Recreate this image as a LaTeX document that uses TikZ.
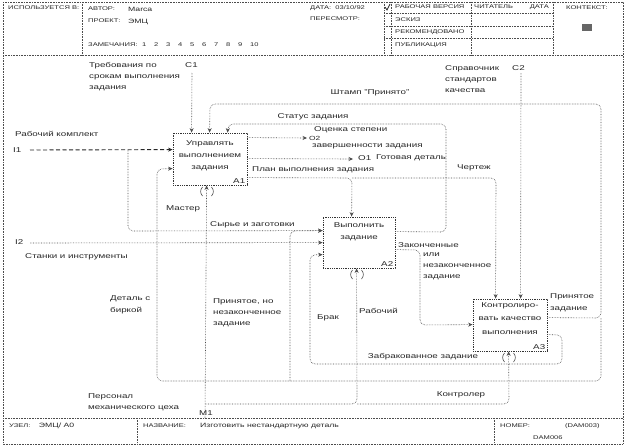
\documentclass[tikz,border=0pt]{standalone}
\usepackage{fontspec}
\setmainfont[FakeStretch=1.4]{Liberation Sans}
\usetikzlibrary{arrows.meta,calc}
\begin{document}
\begin{tikzpicture}[x=1pt,y=-1pt,
  frame/.style={draw=black!70,line width=0.6pt,densely dotted},
  ln/.style={draw=black!70,line width=0.6pt,densely dotted,rounded corners=5pt},
  arr/.style={ln,-{Stealth[length=4.5pt,width=4pt]}},
  iarr/.style={draw=black!85,line width=0.9pt,dash pattern=on 4pt off 2.5pt,-{Stealth[length=4.5pt,width=4pt]}},
  idefbox/.style={draw=black!80,line width=0.8pt,densely dotted,minimum width=74pt,minimum height=52pt,inner sep=0pt},
  lbl/.style={font=\fontsize{7}{11}\selectfont,inner sep=0pt,align=left,text=black!85},
  boxtxt/.style={font=\fontsize{7}{12}\selectfont,inner sep=0pt,align=center,text=black!85},
  hdr/.style={font=\fontsize{5.4}{6}\selectfont,inner sep=0pt,anchor=west,text=black!85},
  tun/.style={draw=black!70,line width=0.6pt}
]
\useasboundingbox (0,0) rectangle (628,447);

% ---------- frame, header, footer ----------
\draw[frame] (3,2) rectangle (623,444);
\draw[frame] (3,55) -- (623,55);
\draw[frame] (82,2) -- (82,55);
\draw[frame] (384,2) -- (384,55);
\draw[frame] (391,2) -- (391,55);
\draw[frame] (471,2) -- (471,55);
\draw[frame] (553,2) -- (553,55);
\draw[frame] (384,13.5) -- (553,13.5);
\draw[frame] (384,26) -- (553,26);
\draw[frame] (384,38.5) -- (553,38.5);
\draw[frame] (3,418) -- (623,418);
\draw[frame] (137,418) -- (137,444);
\draw[frame] (494,418) -- (494,444);

\node[hdr] (hisp) at (8,8) {ИСПОЛЬЗУЕТСЯ В:};
\node[hdr] (haut) at (88,9) {АВТОР:};
\node[hdr,font=\fontsize{6.2}{7}\selectfont] (hautv) at (128,9) {Marca};
\node[hdr] (hprj) at (88,21) {ПРОЕКТ:};
\node[hdr,font=\fontsize{6.2}{7}\selectfont] (hprjv) at (128,22) {ЭМЦ};
\node[hdr] (hzam) at (88,45) {ЗАМЕЧАНИЯ:};
\foreach \n in {1,...,10} \node[hdr] (zn\n) at ({130+12*\n},45) {\n};
\node[hdr] (hdate) at (310,8) {ДАТА:\ \ 03/10/92};
\node[hdr] (hrev) at (310,19) {ПЕРЕСМОТР:};
\draw[line width=0.8pt,black!85] (385,7) -- (387,10) -- (390,4);
\node[hdr] (hs1) at (395,7) {РАБОЧАЯ ВЕРСИЯ};
\node[hdr] (hs2) at (395,19.5) {ЭСКИЗ};
\node[hdr] (hs3) at (395,32) {РЕКОМЕНДОВАНО};
\node[hdr] (hs4) at (395,45) {ПУБЛИКАЦИЯ};
\node[hdr] (hread) at (474,7) {ЧИТАТЕЛЬ};
\node[hdr,anchor=east] (hrdate) at (549,7) {ДАТА};
\node[hdr] (hctx) at (566,8) {КОНТЕКСТ:};
\node[fill=black!60,minimum width=10pt,minimum height=7pt,inner sep=0pt] (ctxbox) at (587,27.5) {};

\node[hdr] (fnode) at (9,426) {УЗЕЛ:\ \ \ \ {\fontsize{6.2}{7}\selectfont ЭМЦ/ А0}};
\node[hdr] (fname) at (143,426) {НАЗВАНИЕ:};
\node[hdr,font=\fontsize{6.2}{7}\selectfont] (ftitle) at (200,426) {Изготовить нестандартную деталь};
\node[hdr] (fnum) at (500,426) {НОМЕР:};
\node[hdr] (fnum1) at (565,426) {(DAM003)};
\node[hdr] (fnum2) at (533,438) {DAM006};

% ---------- boxes ----------
\node[idefbox] (a1) at (210,159) {};
\node[idefbox,minimum width=72pt,minimum height=51pt] (a2) at (359,242.5) {};
\node[idefbox] (a3) at (510,325) {};

\node[boxtxt,anchor=north] (a1t) at ($(a1.north)+(0,7.5)$) {Управлять\\выполнением\\задания};
\node[boxtxt,anchor=north] (a2t) at ($(a2.north)+(0,5.5)$) {Выполнить\\задание};
\node[boxtxt,anchor=north,font=\fontsize{7}{13.5}\selectfont] (a3t) at ($(a3.north)+(0,3.5)$) {Контролиро-\\вать качество\\выполнения};
\node[lbl,anchor=south east] (a1n) at ($(a1.south east)+(-2,-2)$) {A1};
\node[lbl,anchor=south east] (a2n) at ($(a2.south east)+(-2,-2)$) {A2};
\node[lbl,anchor=south east] (a3n) at ($(a3.south east)+(-2,-2)$) {A3};

% ---------- boundary coordinates ----------
\coordinate (i1) at (30,150);
\coordinate (i2) at (30,243);
\coordinate (c1) at (192,73);
\coordinate (c2) at (521,73);
\coordinate (m1) at (205,418);

% ---------- inputs ----------
\draw[iarr] (i1) -- ($(a1.north west)+(0,17)$);
\draw[arr] (128,150) -- (128,231) -- ($(a2.north west)+(0,14)$);
\draw[arr] (i2) -- ($(a2.north west)+(0,26)$);

% ---------- controls ----------
\draw[arr] (c1) -- ($(a1.north west)+(19,0)$);
\draw[arr] (c2) -- ($(a3.north west)+(48,0)$);

% ---------- A1 outputs ----------
\draw[arr] ($(a1.north east)+(0,5)$) -- (307,138);
\draw[arr] ($(a1.north east)+(0,26)$) -- (353,159);
\draw[arr] ($(a1.north east)+(0,45)$) -- (352,178) -- ($(a2.north west)+(29,0)$);
\draw[arr] (352,178) -- (496,178) -- ($(a3.north west)+(23,0)$);

% ---------- A2 outputs ----------
\draw[arr] ($(a2.north east)+(0,15)$) -- (446,232) -- (446,124) -- (228,124) -- ($(a1.north west)+(55,0)$);
\draw[arr] ($(a2.north east)+(0,33)$) -- (420,250) -- (420,325) -- ($(a3.north west)+(0,26)$);

% ---------- A3 outputs ----------
\draw[arr] ($(a3.north east)+(0,19)$) -- (601,318) -- (601,104) -- (210,104) -- ($(a1.north west)+(37,0)$);
\draw[arr] (601,318) -- (601,381) -- (157,381) -- (157,169) -- ($(a1.north west)+(0,36)$);
\draw[arr] (290,381) -- (290,231) -- ($(a2.north west)+(0,14)$);
\draw[arr] ($(a3.north east)+(0,36)$) -- (562,335) -- (562,364) -- (310,364) -- (310,255) -- ($(a2.north west)+(0,38)$);

% ---------- mechanisms ----------
\draw[arr] (m1) -- ($(a1.south west)+(34,0)$);
\draw[arr] (205,404) -- (357,404) -- ($(a2.south west)+(34,0)$);
\draw[arr] (357,404) -- (509,404) -- ($(a3.south west)+(36,0)$);

% tunnel brackets
\draw[tun] (202.5,187) .. controls (200,190) and (200,193) .. (202.5,196);
\draw[tun] (211.5,187) .. controls (214,190) and (214,193) .. (211.5,196);
\draw[tun] (352.5,270) .. controls (350,273) and (350,276) .. (352.5,279);
\draw[tun] (361.5,270) .. controls (364,273) and (364,276) .. (361.5,279);
\draw[tun] (504.5,353) .. controls (502,356) and (502,359) .. (504.5,362);
\draw[tun] (513.5,353) .. controls (516,356) and (516,359) .. (513.5,362);

% ---------- labels ----------
\node[lbl,anchor=west] (lrk) at (15,134) {Рабочий комплект};
\node[lbl,anchor=west] (li1) at (13,150) {I1};
\node[lbl,anchor=west] (li2) at (15,242) {I2};
\node[lbl,anchor=west] (lst) at (25,257) {Станки и инструменты};
\node[lbl,anchor=north west] (lc1t) at (89,62) {Требования по\\срокам выполнения\\задания};
\node[lbl,anchor=west] (lc1) at (185,65) {C1};
\node[lbl,anchor=north west] (lc2t) at (445,65) {Справочник\\стандартов\\качества};
\node[lbl,anchor=west] (lc2) at (512,68) {C2};
\node[lbl] (lsht) at (370,93) {Штамп "Принято"};
\node[lbl] (lstat) at (313,117) {Статус задания};
\node[lbl,anchor=west] (lo2a) at (314,130) {Оценка степени};
\node[lbl,anchor=west,font=\fontsize{6}{7}\selectfont] (lo2) at (309,138.5) {O2};
\node[lbl,anchor=west] (lo2b) at (312,146) {завершенности задания};
\node[lbl,anchor=west] (lo1) at (358,158) {O1};
\node[lbl,anchor=west] (lgd) at (376,158) {Готовая деталь};
\node[lbl,anchor=west] (lplan) at (252,170) {План выполнения задания};
\node[lbl,anchor=west] (lch) at (457,168) {Чертеж};
\node[lbl,anchor=west] (lmas) at (166,209) {Мастер};
\node[lbl,anchor=west] (lsyr) at (210,225) {Сырье и заготовки};
\node[lbl,anchor=west] (lzak) at (398,245) {Законченные};
\node[lbl,anchor=north west] (lzak2) at (423,253) {или\\незаконченное\\задание};
\node[lbl,anchor=north west,font=\fontsize{7}{12}\selectfont] (lprin) at (550,293) {Принятое\\задание};
\node[lbl,anchor=north west,font=\fontsize{7}{12}\selectfont] (ldet) at (110,295) {Деталь с\\биркой};
\node[lbl,anchor=north west] (lpnz) at (213,298) {Принятое, но\\незаконченное\\задание};
\node[lbl,anchor=west] (lbrak) at (317,318) {Брак};
\node[lbl,anchor=west] (lrab) at (359,311) {Рабочий};
\node[lbl] (lzz) at (423,357) {Забракованное задание};
\node[lbl,anchor=north west] (lpers) at (88,393) {Персонал\\механического цеха};
\node[lbl,anchor=west] (lm1) at (199,413) {M1};
\node[lbl] (lkon) at (461,395) {Контролер};
\end{tikzpicture}
\end{document}
